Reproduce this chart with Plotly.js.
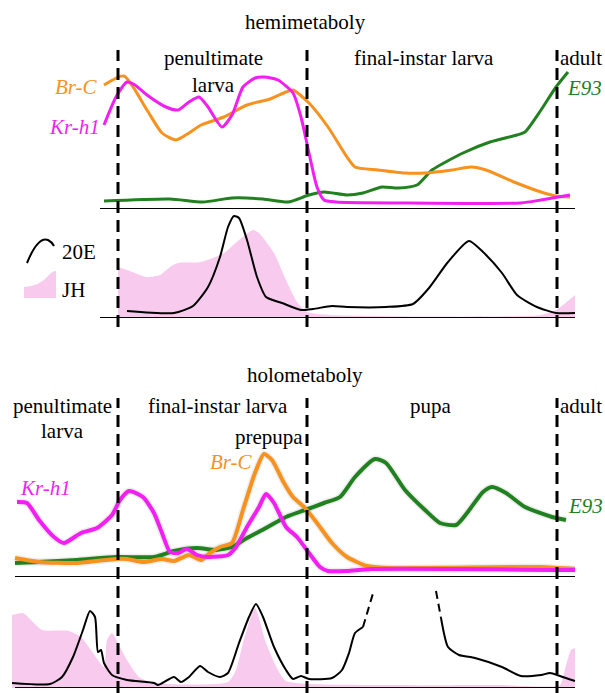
<!DOCTYPE html>
<html>
<head>
<meta charset="utf-8">
<script src="https://cdn.plot.ly/plotly-3.0.1.min.js"></script>
<style>html,body{margin:0;padding:0;background:#fff;}#chart{width:605px;height:693px;}</style>
</head>
<body>
<div id="chart"></div>
<script>
// ---- Data (time in arbitrary units, levels in arbitrary units) ----
// Hemimetaboly: gene expression
const hemiBrcT = [104,124,147,162,176,189,201,224,247,270,286,293,309,328,347,355,378,405,425,452,471,486,514,541,556,570];
const hemiBrcV = [124,133,99,76,69,76,84,92,104,110,117,119,106,82,52,42,39,36,36,39,42,39,27,17,13,12];
const hemiKrT = [104,116,127,135,147,166,178,189,199,208,222,232,243,255,264,278,293,301,309,317,324,336,400,521,541,570];
const hemiKrV = [84,112,127,124,114,102,99,107,112,102,82,94,122,131,132,129,116,92,56,22,9,7,6,6,9,14];
const hemiE93T = [104,170,203,232,263,288,309,324,347,363,382,398,417,432,463,490,517,525,541,556,568];
const hemiE93V = [8,10,7,11,10,7,14,17,14,16,22,21,24,39,56,67,74,77,99,122,137];
// Hemimetaboly: hormones
const hemi20ET = [127,174,193,208,220,228,234,239,247,257,266,282,301,313,332,347,386,413,429,448,469,483,502,517,537,556,575];
const hemi20EV = [7,5,12,31,61,91,102,100,78,41,21,15,8,9,12,11,11,14,30,56,77,66,45,23,11,5,5];
const hemiJHT = [118,127,147,160,170,178,201,224,239,253,259,274,286,297,307,330,541,556,575];
const hemiJHV = [51,48,41,43,51,55,56,65,78,88,85,65,38,16,6,3,3,8,23];
// Holometaboly: gene expression
const holoKrT = [17,27,39,54,64,81,97,112,120,129,143,154,162,170,178,187,197,208,228,236,247,259,266,274,286,297,309,320,328,347,371,575];
const holoKrV = [75,74,57,40,34,44,49,62,77,86,80,64,44,25,24,28,22,20,22,30,50,70,83,74,50,40,24,10,6,6,8,7];
const holoBrcT = [15,39,77,116,127,143,162,174,189,201,210,220,232,243,255,264,272,284,293,305,317,332,347,367,386,541,575];
const holoBrcV = [19,15,14,18,18,15,18,16,22,17,24,30,34,67,104,123,117,94,80,69,54,34,20,11,9,10,8];
const holoE93T = [15,39,77,116,154,174,197,216,232,247,266,286,305,324,340,355,375,386,405,425,440,456,467,483,492,506,525,552,566];
const holoE93V = [14,15,17,20,20,26,29,27,30,39,49,60,67,74,80,100,118,114,87,67,54,52,64,85,90,84,70,60,57];
// Holometaboly: hormones (20E pupal peak off-scale, drawn broken)
const holo20ET1 = [12,50,62,73,83,90,95,98,101,104,112,127,154,158,174,181,189,200,208,220,228,239,249,256,263,274,286,293,301,309,332,342,349,355,363];
const holo20EV1 = [5,4,11,31,58,77,71,36,38,25,13,8,5,3,11,6,11,22,16,11,15,45,71,84,71,41,18,9,12,9,10,18,35,55,61];
const holo20EDashLT = [363,374];
const holo20EDashLV = [61,98];
const holo20EDashRT = [436,441];
const holo20EDashRV = [97,70];
const holo20ET2 = [441,448,459,475,502,521,541,550,560,575];
const holo20EV2 = [70,41,33,30,21,12,13,15,12,7];
const holoJHT = [12,23,31,42,69,81,93,104,107,112,118,127,139,154,228,236,243,255,266,278,286,400,500,560,564,571,575];
const holoJHV = [73,75,68,58,57,51,35,21,48,55,45,28,11,5,6,18,45,80,45,18,7,3,3,3,15,38,40];
// Stage boundaries
const stageBounds = [118,307,557];

// ---- Styling ----
const ORANGE = '#f7921e', MAGENTA = '#f21ef2', GREEN = '#21801f', PINK = '#f8cbee';
const FONT = 'Liberation Serif';
const W = 605, H = 693;
const px = x => x / W, py = y => 1 - y / H;

function line(t, v, ax, color, width, dash) {
  return {x: t, y: v, yaxis: ax, type: 'scatter', mode: 'lines', hoverinfo: 'skip',
          line: {color: color, width: width, shape: 'spline', smoothing: 0.6, dash: dash || 'solid'}, showlegend: false};
}
function area(t, v, ax) {
  return {x: t, y: v, yaxis: ax, type: 'scatter', mode: 'lines', fill: 'tozeroy', fillcolor: PINK,
          line: {color: PINK, width: 0, shape: 'spline', smoothing: 0.6}, hoverinfo: 'skip', showlegend: false};
}
const SHADOW = 'rgba(0,0,0,0.07)';
const traces = [
  line(hemiE93T, hemiE93V, 'y', GREEN, 3),
  line(hemiBrcT, hemiBrcV, 'y', ORANGE, 3),
  line(hemiKrT, hemiKrV, 'y', MAGENTA, 3),
  area(hemiJHT, hemiJHV, 'y2'),
  line(hemi20ET, hemi20EV, 'y2', '#000', 2),
  line(holoE93T, holoE93V, 'y3', SHADOW, 7),
  line(holoBrcT, holoBrcV, 'y3', SHADOW, 7),
  line(holoKrT, holoKrV, 'y3', SHADOW, 7),
  line(holoE93T, holoE93V, 'y3', GREEN, 4),
  line(holoBrcT, holoBrcV, 'y3', ORANGE, 4),
  line(holoKrT, holoKrV, 'y3', MAGENTA, 4),
  area(holoJHT, holoJHV, 'y4'),
  line(holo20ET1, holo20EV1, 'y4', '#000', 2),
  line(holo20EDashLT, holo20EDashLV, 'y4', '#000', 2, '8px,5px'),
  line(holo20EDashRT, holo20EDashRV, 'y4', '#000', 2, '8px,5px'),
  line(holo20ET2, holo20EV2, 'y4', '#000', 2)
];

const shapes = [];
// baselines
[['y', 100], ['y2', 100], ['y3', 15], ['y4', 15]].forEach(([ax, x0]) => {
  shapes.push({type: 'line', xref: 'x', yref: ax, x0: x0, x1: 575, y0: 0, y1: 0, line: {color: '#000', width: 2}});
});
// stage boundaries (dashed)
stageBounds.forEach(b => {
  shapes.push({type: 'line', xref: 'x', yref: 'paper', x0: b, x1: b, y0: py(327), y1: py(50), line: {color: '#000', width: 3, dash: '12px,7px'}});
  shapes.push({type: 'line', xref: 'x', yref: 'paper', x0: b, x1: b, y0: py(693), y1: py(398), line: {color: '#000', width: 3, dash: '12px,7px'}});
});
// legend icons
shapes.push({type: 'path', xref: 'paper', yref: 'paper', layer: 'above',
  path: `M ${px(27)} ${py(263)} Q ${px(38)} ${py(236)} ${px(48)} ${py(240)} Q ${px(52)} ${py(242)} ${px(54)} ${py(246)}`,
  line: {color: '#000', width: 2}});
shapes.push({type: 'path', xref: 'paper', yref: 'paper',
  path: `M ${px(24)} ${py(298)} L ${px(24)} ${py(287)} Q ${px(40)} ${py(286)} ${px(48)} ${py(276)} Q ${px(52)} ${py(271)} ${px(56)} ${py(271)} L ${px(56)} ${py(298)} Z`,
  fillcolor: PINK, line: {width: 0}});

function txt(s, x, y, color, italic, size) {
  return {text: italic ? '<i>' + s + '</i>' : s, x: px(x), y: py(y), xref: 'paper', yref: 'paper',
          xanchor: 'center', yanchor: 'middle', showarrow: false,
          font: {family: FONT, size: size || 21, color: color || '#000'}};
}
const annotations = [
  txt('hemimetaboly', 305, 22),
  txt('penultimate', 213, 58), txt('larva', 213, 85),
  txt('final-instar larva', 424, 58),
  txt('adult', 581, 58),
  txt('Br-C', 77, 87, ORANGE, true), txt('Kr-h1', 74, 127, MAGENTA, true), txt('E93', 584, 88, GREEN, true),
  txt('20E', 79, 252), txt('JH', 73, 290),
  txt('holometaboly', 305, 375),
  txt('penultimate', 62, 406), txt('larva', 62, 431),
  txt('final-instar larva', 218, 406),
  txt('prepupa', 269, 437),
  txt('pupa', 431, 406),
  txt('adult', 581, 406),
  txt('Kr-h1', 45, 488, MAGENTA, true), txt('Br-C', 231, 462, ORANGE, true), txt('E93', 585, 506, GREEN, true)
];

const hidden = {visible: false, fixedrange: true, showgrid: false, zeroline: false};
const layout = {
  width: W, height: H, margin: {l: 0, r: 0, t: 0, b: 0},
  paper_bgcolor: '#fff', plot_bgcolor: 'rgba(0,0,0,0)', showlegend: false,
  font: {family: FONT},
  xaxis: Object.assign({range: [0, 605]}, hidden),
  yaxis: Object.assign({domain: [py(209), py(40)], range: [0, 169]}, hidden),
  yaxis2: Object.assign({domain: [py(318), py(209)], range: [0, 109], anchor: 'x'}, hidden),
  yaxis3: Object.assign({domain: [py(577), py(398)], range: [0, 179], anchor: 'x'}, hidden),
  yaxis4: Object.assign({domain: [py(688), py(577)], range: [0, 111], anchor: 'x'}, hidden),
  shapes: shapes, annotations: annotations
};
Plotly.newPlot('chart', traces, layout, {displayModeBar: false, staticPlot: true});
</script>
</body>
</html>
